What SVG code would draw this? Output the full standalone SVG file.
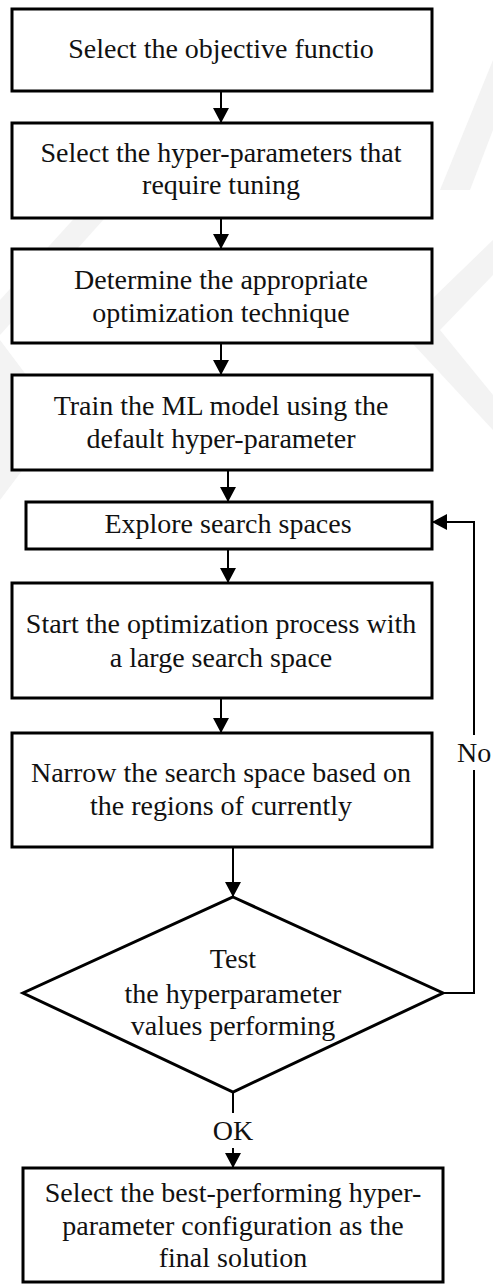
<svg xmlns="http://www.w3.org/2000/svg" width="493" height="1284" viewBox="0 0 493 1284">
<defs>
<marker id="ah" markerUnits="userSpaceOnUse" markerWidth="16" markerHeight="16" refX="15" refY="8" orient="auto">
<path d="M0,0 L15,8 L0,16 Z" fill="#000"/>
</marker>
<style>
.box{fill:#fff;stroke:#000;stroke-width:3;stroke-linejoin:miter}
.t{font-family:'Liberation Serif','DejaVu Serif',serif;font-size:28px;fill:#111;text-anchor:middle}
.c{fill:none;stroke:#000;stroke-width:2}
.wm{fill:#f3f3f3}
</style>
</defs>
<rect width="493" height="1284" fill="#fff"/>
<g id="watermark">
<polygon class="wm" points="0,300 100,190 130,190 0,335"/>
<polygon class="wm" points="493,60 440,190 470,190 493,130"/>
<polygon class="wm" points="493,240 400,330 493,430 493,395 440,330 493,275"/>
<polygon class="wm" points="0,340 60,420 0,500"/>
</g>
<g id="connectors">
<line class="c" x1="221" y1="91" x2="221" y2="123" marker-end="url(#ah)"/>
<line class="c" x1="221" y1="218" x2="221" y2="249" marker-end="url(#ah)"/>
<line class="c" x1="221" y1="343" x2="221" y2="375" marker-end="url(#ah)"/>
<line class="c" x1="228" y1="470" x2="228" y2="502" marker-end="url(#ah)"/>
<line class="c" x1="228" y1="549" x2="228" y2="583" marker-end="url(#ah)"/>
<line class="c" x1="221" y1="698" x2="221" y2="733" marker-end="url(#ah)"/>
<line class="c" x1="233" y1="847" x2="233" y2="897" marker-end="url(#ah)"/>
<line class="c" x1="233" y1="1092" x2="233" y2="1113"/>
<line class="c" x1="233" y1="1148" x2="233" y2="1168" marker-end="url(#ah)"/>
<polyline class="c" points="443,993 474,993 474,770"/>
<polyline class="c" points="474,735 474,522 432,522" marker-end="url(#ah)"/>
<text class="t" x="233" y="1140" font-family="Liberation Serif, serif">OK</text>
<text class="t" x="457" y="762" style="text-anchor:start">No</text>
</g>
<g id="n1">
<rect class="box" x="12" y="9" width="420" height="82"/>
<text class="t" x="221" y="58">Select the objective functio</text>
</g>
<g id="n2">
<rect class="box" x="12" y="123" width="420" height="95"/>
<text class="t" x="221" y="162">Select the hyper-parameters that</text>
<text class="t" x="221" y="194">require tuning</text>
</g>
<g id="n3">
<rect class="box" x="12" y="249" width="420" height="94"/>
<text class="t" x="221" y="289">Determine the appropriate</text>
<text class="t" x="221" y="322">optimization technique</text>
</g>
<g id="n4">
<rect class="box" x="12" y="375" width="420" height="95"/>
<text class="t" x="221" y="415">Train the ML model using the</text>
<text class="t" x="221" y="448">default hyper-parameter</text>
</g>
<g id="n5">
<rect class="box" x="26" y="502" width="406" height="47"/>
<text class="t" x="228" y="533">Explore search spaces</text>
</g>
<g id="n6">
<rect class="box" x="12" y="583" width="420" height="115"/>
<text class="t" x="221" y="633">Start the optimization process with</text>
<text class="t" x="221" y="667">a large search space</text>
</g>
<g id="n7">
<rect class="box" x="12" y="733" width="420" height="114"/>
<text class="t" x="221" y="782">Narrow the search space based on</text>
<text class="t" x="221" y="815">the regions of currently</text>
</g>
<g id="n8">
<polygon class="box" points="233,897 443,993 233,1092 23,993"/>
<text class="t" x="233" y="968">Test</text>
<text class="t" x="233" y="1003">the hyperparameter</text>
<text class="t" x="233" y="1035">values performing</text>
</g>
<g id="n9">
<rect class="box" x="23" y="1168" width="420" height="114"/>
<text class="t" x="233" y="1202">Select the best-performing hyper-</text>
<text class="t" x="233" y="1235">parameter configuration as the</text>
<text class="t" x="233" y="1267">final solution</text>
</g>
</svg>
